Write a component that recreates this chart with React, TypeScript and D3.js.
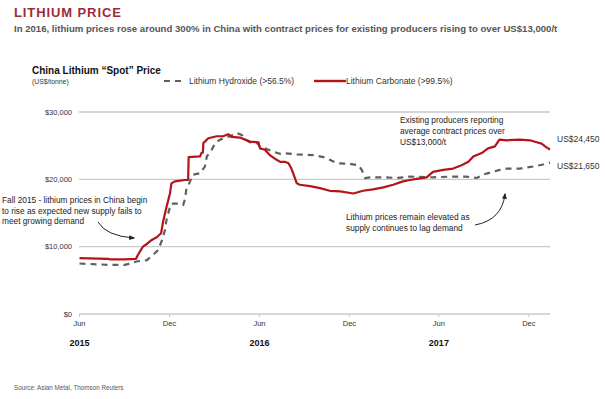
import React from "react";
import * as d3 from "d3";

const carbonateDates = [
  "2015-06-01","2015-07-29","2015-08-02","2015-09-01","2015-09-24","2015-09-28","2015-10-08","2015-10-16","2015-10-26","2015-11-05","2015-11-14","2015-11-18","2015-11-25","2015-12-02","2015-12-05","2015-12-12","2016-01-01","2016-01-08","2016-01-09","2016-02-01","2016-02-04","2016-02-07","2016-02-08","2016-02-11","2016-02-18","2016-03-06","2016-03-19","2016-03-30","2016-04-05","2016-04-22","2016-05-03","2016-05-13","2016-05-30","2016-06-02","2016-06-12","2016-06-22","2016-07-06","2016-07-13","2016-07-23","2016-07-30","2016-08-05","2016-08-12","2016-08-16","2016-08-22","2016-09-12","2016-10-02","2016-10-22","2016-11-12","2016-12-09","2016-12-29","2017-01-18","2017-02-08","2017-02-28","2017-03-20","2017-04-03","2017-04-20","2017-05-07","2017-05-20","2017-06-10","2017-06-30","2017-07-17","2017-07-31","2017-08-10","2017-08-27","2017-09-09","2017-09-23","2017-10-02","2017-10-17","2017-11-13","2017-12-03","2017-12-17","2017-12-27","2018-01-03","2018-01-13"
];
const carbonateValues = [
  8300,8200,8100,8100,8200,8800,10000,10400,11000,11400,12000,13700,15900,17900,19400,19700,19900,19900,23300,23400,23900,24000,25400,25600,26100,26400,26400,26700,26300,26200,25900,25600,25500,24600,24400,23600,22900,22600,22600,22400,21600,20200,19400,19200,19000,18700,18300,18200,17900,18300,18500,18800,19200,19700,19900,20100,20300,21100,21400,21600,22100,22600,23400,23900,24600,24900,25900,25800,25900,25800,25500,25300,24900,24400
];

const hydroxideDates = [
  "2015-06-01","2015-07-30","2015-09-02","2015-09-25","2015-10-16","2015-10-29","2015-11-08","2015-11-16","2015-11-22","2015-11-25","2015-12-02","2015-12-05","2015-12-19","2015-12-29","2016-01-02","2016-01-04","2016-01-18","2016-02-01","2016-02-11","2016-02-15","2016-02-25","2016-03-03","2016-03-13","2016-04-02","2016-04-16","2016-04-26","2016-05-03","2016-05-13","2016-05-26","2016-06-02","2016-06-12","2016-06-29","2016-07-13","2016-07-19","2016-08-16","2016-09-18","2016-10-09","2016-10-22","2016-11-05","2016-12-02","2016-12-19","2016-12-26","2017-01-02","2017-01-12","2017-02-08","2017-03-07","2017-04-03","2017-05-20","2017-06-23","2017-07-27","2017-08-17","2017-08-30","2017-09-13","2017-10-03","2017-10-17","2017-11-13","2017-12-10","2017-12-30","2018-01-13"
];
const hydroxideValues = [
  7500,7300,7300,7800,8000,8800,9500,11000,12500,14000,15900,16400,16400,16200,17200,18400,20700,20900,21900,23400,24400,25400,25900,26400,26900,26600,25900,25500,25500,24900,24600,24100,23800,23900,23700,23600,23300,22900,22400,22300,22100,21400,20200,20300,20300,20200,20400,20300,20400,20400,20200,20700,21000,21400,21600,21600,21900,22200,22500
];

const yTicks = [0, 10000, 20000, 30000];
const xTickDates = ["2015-06-01","2015-12-01","2016-06-01","2016-12-01","2017-06-01","2017-12-01"];
const xTickLabels = ["Jun","Dec","Jun","Dec","Jun","Dec"];
const yearDates = ["2015-06-01","2016-06-01","2017-06-01"];
const yearLabels = ["2015","2016","2017"];
const domainDates = ["2015-06-01","2018-01-13"];

const endLabels = ["US$24,450","US$21,650"];
const endValues = [26000, 22000];

const fallNote = [
  "Fall 2015 - lithium prices in China begin",
  "to rise as expected new supply fails to",
  "meet growing demand",
];
const existNote = [
  "Existing producers reporting",
  "average contract prices over",
  "US$13,000/t",
];
const elevNote = [
  "Lithium prices remain elevated as",
  "supply continues to lag demand",
];

const parse = d3.timeParse("%Y-%m-%d");
const FONT = "'Liberation Sans', Arial, Helvetica, sans-serif";
const RED = "#b5121b";
const GREY = "#5f5f5f";

export default function App() {
  const W = 605, H = 399;
  const x = d3.scaleTime()
    .domain([parse(domainDates[0])!, parse(domainDates[1])!])
    .range([79.5, 550]);
  const y = d3.scaleLinear().domain([0, 30000]).range([314, 112]);

  const carb = carbonateDates.map((d, i) => ({ d: parse(d)!, v: carbonateValues[i] }));
  const hyd = hydroxideDates.map((d, i) => ({ d: parse(d)!, v: hydroxideValues[i] }));
  const line = d3.line<{ d: Date; v: number }>().x(p => x(p.d)).y(p => y(p.v));

  const gridColor = "#c9c9c9";
  return (
    <svg width={W} height={H} style={{ position: "absolute", left: 0, top: 0, background: "#fff" }} fontFamily={FONT}>
      <defs>
        <marker id="ah" viewBox="0 0 10 10" refX="8" refY="5" markerWidth="6" markerHeight="6" orient="auto-start-reverse">
          <path d="M0,1 L10,5 L0,9 z" fill="#222" />
        </marker>
      </defs>
      <rect width={W} height={H} fill="#fff" />
      <text x={14} y={17} fontSize={13} fontWeight="bold" fill="#9e2a3a" letterSpacing={0.9}>LITHIUM PRICE</text>
      <text x={14} y={32} fontSize={9.6} fontWeight="bold" fill="#555">In 2016, lithium prices rose around 300% in China with contract prices for existing producers rising to over US$13,000/t</text>

      <text x={32} y={74} fontSize={10} fontWeight="bold" fill="#111">China Lithium “Spot” Price</text>
      <text x={32} y={84} fontSize={6.8} fill="#333">(US$/tonne)</text>

      <line x1={164} x2={186} y1={81} y2={81} stroke={GREY} strokeWidth={2.2} strokeDasharray="6,5" />
      <text x={189} y={84} fontSize={8.5} fill="#333">Lithium Hydroxide (&gt;56.5%)</text>
      <line x1={314} x2={346} y1={81} y2={81} stroke={RED} strokeWidth={2.4} />
      <text x={346} y={84} fontSize={8.5} fill="#333">Lithium Carbonate (&gt;99.5%)</text>

      {yTicks.map(t => (
        <g key={t}>
          <line x1={79} x2={550} y1={y(t)} y2={y(t)} stroke={gridColor} strokeWidth={1.3} />
          <text x={72} y={y(t) + 2.6} fontSize={7.5} textAnchor="end" fill="#333">{"$" + d3.format(",")(t)}</text>
        </g>
      ))}
      {xTickDates.map((d, i) => (
        <g key={d}>
          <line x1={x(parse(d)!)} x2={x(parse(d)!)} y1={314} y2={317} stroke={gridColor} strokeWidth={1} />
          <text x={x(parse(d)!)} y={326} fontSize={7.5} textAnchor="middle" fill="#333">{xTickLabels[i]}</text>
        </g>
      ))}
      {yearDates.map((d, i) => (
        <text key={d} x={x(parse(d)!)} y={346} fontSize={9} fontWeight="bold" textAnchor="middle" fill="#111">{yearLabels[i]}</text>
      ))}

      <path d={line(hyd) || ""} fill="none" stroke={GREY} strokeWidth={2.2} strokeDasharray="6,5" />
      <path d={line(carb) || ""} fill="none" stroke={RED} strokeWidth={2.2} strokeLinejoin="round" />

      {endLabels.map((l, i) => (
        <text key={l} x={557} y={y(endValues[i]) + 3} fontSize={8.5} fill="#333">{l}</text>
      ))}

      {fallNote.map((l, i) => (
        <text key={l} x={2} y={203 + i * 10.5} fontSize={8.3} fill="#222">{l}</text>
      ))}
      <path d="M98,222 Q106,236 134,238" fill="none" stroke="#222" strokeWidth={1} markerEnd="url(#ah)" />

      {existNote.map((l, i) => (
        <text key={l} x={400} y={123 + i * 10.8} fontSize={8.3} fill="#222">{l}</text>
      ))}

      {elevNote.map((l, i) => (
        <text key={l} x={346} y={220 + i * 11.3} fontSize={8.3} fill="#222">{l}</text>
      ))}
      <path d="M475,225 Q502,220 505,194" fill="none" stroke="#222" strokeWidth={1} markerEnd="url(#ah)" />

      <text x={14} y={390} fontSize={6.3} fill="#555">Source: Asian Metal, Thomson Reuters</text>
    </svg>
  );
}
